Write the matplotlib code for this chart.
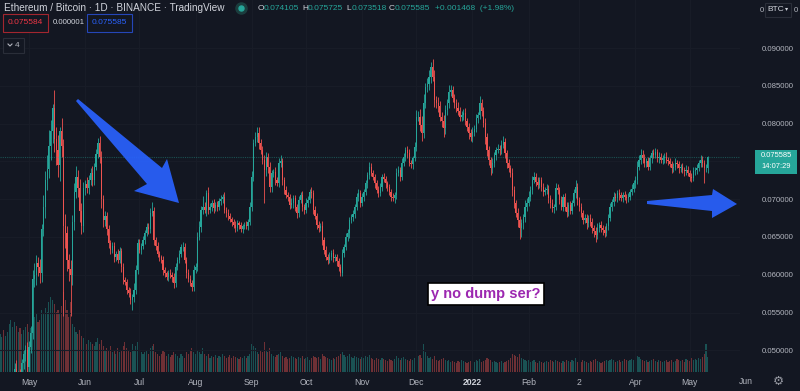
import numpy as np
import pandas as pd
import matplotlib.pyplot as plt
import matplotlib.dates as mdates
from matplotlib.patches import Polygon, Rectangle
from matplotlib.lines import Line2D

plt.rcParams['font.family'] = ['Liberation Sans', 'DejaVu Sans']

W, H = 800, 391
BG = '#131722'
UP = '#26a69a'
DOWN = '#ef5350'
TXT = '#b2b5be'
BLUE = '#2962ff'

# daily ETH/BTC closes, in 1e-5 BTC (15 Apr 2021 -> 11 May 2022)
close_raw = [
    3900, 3910, 3820, 3890, 3950, 4070, 4370, 4620, 4750, 4480, 4670, 4650, 4830, 4950, 5000, 4780, 5050, 5230,
    5940, 6000, 6150, 6100, 6020, 6600, 6900, 7250, 7400, 7700, 7900, 8200, 7800, 7650, 7450, 7900, 7700, 6650,
    6550, 6200, 6080, 6000, 6700, 7100, 7300, 7150, 6850, 6650, 7150, 7200, 7150, 7250, 7350, 7250, 7430, 7600, 7740, 7560,
    7000, 6720, 6780, 6600, 6420, 6330, 6380, 6230, 6280, 6200, 6320, 6100, 5930, 5900, 5800, 5760, 5670, 5700, 5800, 6060,
    6420, 6330, 6380, 6460, 6550, 6630, 6600, 6820, 6850, 6460, 6380, 6280, 6230, 6200, 6060, 6020, 5970, 6020, 6000, 5970,
    5890, 6100, 6200, 6280, 6370, 6370, 6200, 6020, 5950, 5890, 5840, 6060, 6100, 6500, 6630, 6860, 6900, 6860, 7080, 6860,
    6900, 6950, 6880, 6920, 6900, 6980, 7000, 7030, 6860, 6820, 6780, 6740, 6700, 6660, 6620, 6680, 6660, 6600, 6640, 6660,
    6640, 6700, 6900, 7290, 7740, 7820, 7870, 7740, 7650, 7520, 7390, 7560, 7430, 7160, 7340, 7360, 7250, 7210, 7480, 7500,
    7250, 7120, 7060, 7030, 6920, 6950, 7010, 6900, 6820, 6990, 7060, 6900, 6860, 6950, 6990, 7100, 7080, 6860, 6780, 6660,
    6620, 6650, 6460, 6330, 6240, 6200, 6240, 6290, 6220, 6240, 6180, 6100, 6020, 6290, 6370, 6500, 6550, 6720, 6760, 6800,
    6900, 7030, 7080, 6950, 7030, 7100, 7210, 7320, 7430, 7350, 7300, 7210, 7120, 7080, 7160, 7290, 7270, 7210, 7160, 7100,
    7030, 7010, 7050, 7350, 7390, 7300, 7480, 7560, 7650, 7610, 7480, 7460, 7540, 7690, 8090, 8090, 7980, 7870, 8270, 8480,
    8520, 8620, 8750, 8620, 8310, 8270, 8230, 8090, 8030, 7940, 8180, 8270, 8420, 8440, 8340, 8270, 8210, 8170, 8090, 8110,
    8140, 8030, 7960, 7870, 7820, 7890, 7930, 8070, 8110, 8270, 8170, 8010, 7820, 7650, 7520, 7410, 7480, 7580, 7650, 7670,
    7650, 7720, 7760, 7610, 7480, 7410, 7350, 7120, 6950, 6820, 6730, 6620, 6680, 6760, 6900, 6950, 7030, 7120, 7250, 7290,
    7230, 7190, 7250, 7160, 7100, 7120, 7140, 7010, 6950, 6880, 6900, 7150, 7120, 6990, 6900, 7030, 6900, 6830, 6920, 6850,
    6950, 7080, 7160, 6990, 6900, 6820, 6730, 6750, 6680, 6750, 6700, 6620, 6580, 6530, 6620, 6660, 6620, 6590, 6550, 6640,
    6750, 6900, 6960, 7030, 7010, 7080, 7050, 7010, 7050, 7030, 7010, 7030, 7100, 7140, 7210, 7250, 7430, 7520, 7580, 7540,
    7480, 7500, 7430, 7540, 7610, 7590, 7630, 7540, 7560, 7520, 7540, 7560, 7520, 7500, 7460, 7410, 7430, 7480, 7460, 7410,
    7430, 7390, 7370, 7390, 7350, 7300, 7280, 7370, 7390, 7410, 7480, 7520, 7480, 7410, 7410, 7559,
]
first_open = 3880

wick_up_raw = [
    30, 40, 50, 40, 60, 150, 120, 90, 80, 120, 60, 90, 60, 50, 70, 110, 80, 90,
    120, 150, 110, 90, 110, 70, 160, 120, 180, 220, 150, 60, 250, 150, 200, 60, 180, 90,
    150, 100, 80, 120, 90, 120, 140, 90, 120, 100, 80, 60, 90, 70, 60, 90, 50, 60, 70, 90,
    80, 60, 70, 50, 60, 40, 60, 50, 40, 60, 50, 40, 50, 40, 50, 40, 60, 50, 90, 70,
    60, 50, 40, 50, 40, 60, 50, 70, 110, 50, 40, 50, 40, 30, 50, 40, 30, 40, 50, 40,
    50, 60, 40, 50, 40, 60, 50, 40, 60, 50, 40, 70, 60, 60, 80, 50, 140, 60, 40, 80,
    50, 40, 50, 40, 60, 40, 50, 40, 60, 40, 50, 40, 30, 40, 50, 40, 30, 40, 30, 40,
    50, 40, 60, 80, 60, 70, 90, 80, 60, 50, 70, 60, 50, 60, 50, 40, 60, 50, 60, 90,
    50, 40, 50, 30, 40, 60, 40, 50, 40, 50, 40, 50, 40, 60, 50, 40, 60, 40, 50, 40,
    50, 40, 60, 40, 50, 40, 60, 40, 50, 40, 30, 40, 40, 50, 40, 50, 60, 40, 50, 60,
    40, 50, 60, 40, 50, 40, 50, 40, 60, 50, 40, 30, 40, 50, 60, 40, 50, 40, 30, 40,
    40, 50, 40, 60, 50, 40, 60, 50, 40, 60, 50, 40, 30, 60, 90, 80, 100, 120, 120, 60,
    80, 90, 70, 100, 90, 60, 80, 70, 60, 80, 70, 60, 90, 70, 60, 50, 60, 70, 50, 60,
    50, 60, 40, 50, 60, 70, 50, 60, 50, 90, 60, 50, 60, 50, 60, 40, 60, 50, 40, 60,
    50, 60, 70, 50, 40, 50, 40, 60, 50, 40, 60, 50, 60, 50, 90, 60, 80, 50, 60, 70,
    50, 60, 50, 40, 50, 40, 60, 50, 40, 50, 40, 60, 50, 40, 50, 40, 50, 60, 40, 50,
    40, 60, 90, 50, 40, 50, 40, 60, 50, 40, 60, 50, 40, 50, 60, 40, 50, 40, 50, 40,
    60, 50, 40, 60, 50, 40, 50, 40, 50, 60, 40, 50, 40, 60, 50, 60, 80, 60, 90, 70,
    60, 50, 60, 50, 40, 60, 50, 40, 60, 50, 40, 50, 60, 40, 50, 40, 50, 60, 40, 50,
    40, 50, 40, 60, 50, 40, 50, 60, 40, 50, 40, 60, 50, 40, 50, 14,
]
wick_dn_raw = [
    40, 60, 50, 40, 50, 90, 100, 80, 110, 100, 80, 70, 60, 80, 90, 70, 60, 90,
    80, 100, 140, 120, 130, 110, 90, 150, 130, 120, 180, 160, 170, 200, 150, 210, 140, 1200,
    200, 150, 160, 550, 130, 110, 90, 120, 150, 110, 80, 90, 70, 80, 60, 70, 60, 50, 60, 80,
    120, 90, 70, 80, 60, 50, 40, 60, 50, 40, 50, 60, 50, 40, 60, 50, 50, 140, 60, 50,
    50, 40, 60, 40, 50, 40, 60, 50, 40, 60, 50, 40, 50, 40, 60, 50, 40, 50, 40, 60,
    60, 50, 40, 50, 40, 60, 50, 60, 50, 40, 60, 50, 40, 50, 40, 60, 50, 40, 80, 50,
    40, 50, 60, 40, 50, 40, 60, 50, 40, 60, 50, 40, 50, 40, 60, 40, 50, 40, 50, 40,
    40, 50, 40, 60, 50, 40, 60, 70, 50, 60, 440, 80, 90, 70, 60, 50, 60, 40, 50, 60,
    60, 50, 40, 60, 50, 40, 60, 50, 70, 50, 40, 60, 50, 40, 50, 40, 60, 50, 40, 60,
    50, 40, 60, 50, 40, 60, 50, 40, 50, 40, 60, 50, 30, 40, 50, 40, 50, 60, 40, 50,
    50, 40, 60, 50, 40, 50, 40, 60, 50, 40, 50, 60, 40, 50, 40, 50, 40, 60, 50, 40,
    50, 40, 60, 50, 40, 60, 50, 40, 50, 60, 40, 50, 60, 40, 50, 60, 80, 100, 60, 70,
    60, 70, 80, 60, 90, 70, 80, 60, 70, 120, 80, 60, 70, 50, 60, 70, 50, 60, 50, 60,
    60, 50, 60, 70, 50, 60, 50, 40, 60, 50, 70, 60, 90, 80, 70, 90, 60, 50, 60, 40,
    60, 50, 40, 60, 70, 50, 60, 80, 70, 60, 100, 150, 120, 70, 60, 50, 40, 60, 50, 40,
    50, 60, 40, 50, 60, 40, 50, 60, 70, 50, 60, 40, 50, 60, 40, 50, 60, 70, 50, 40,
    50, 40, 60, 70, 60, 50, 60, 40, 70, 50, 60, 70, 80, 90, 60, 50, 60, 70, 50, 40,
    50, 40, 60, 50, 40, 50, 60, 40, 50, 40, 60, 50, 40, 50, 40, 60, 50, 40, 50, 60,
    50, 60, 40, 50, 60, 50, 40, 50, 60, 40, 50, 60, 40, 50, 40, 60, 50, 40, 50, 60,
    50, 40, 60, 50, 40, 60, 50, 40, 50, 60, 40, 50, 60, 200, 50, 58,
]
volume = [
    38, 35, 42, 36, 40, 48, 52, 45, 50, 46, 40, 44, 38, 42, 45, 48, 40, 44,
    60, 55, 58, 50, 52, 62, 58, 64, 60, 70, 75, 72, 68, 60, 62, 58, 66, 80,
    72, 62, 55, 70, 48, 45, 40, 38, 42, 36, 34, 30, 28, 32, 30, 28, 26, 30, 34, 28,
    32, 26, 22, 24, 22, 26, 20, 22, 18, 24, 20, 22, 26, 30, 24, 22, 20, 28, 22, 26,
    30, 22, 20, 18, 20, 22, 18, 24, 26, 28, 20, 18, 16, 18, 22, 20, 16, 18, 15, 17,
    20, 18, 16, 14, 18, 16, 14, 20, 18, 22, 24, 20, 18, 22, 20, 18, 24, 18, 16, 18,
    14, 16, 15, 17, 14, 16, 15, 18, 16, 14, 15, 17, 14, 16, 15, 14, 13, 15, 14, 16,
    14, 16, 18, 28, 26, 24, 20, 18, 22, 20, 30, 22, 20, 24, 18, 16, 15, 17, 18, 20,
    16, 14, 15, 13, 14, 16, 15, 14, 13, 15, 14, 16, 13, 14, 15, 12, 14, 16, 15, 14,
    15, 13, 18, 16, 15, 14, 13, 12, 14, 13, 15, 16, 18, 20, 17, 15, 16, 18, 15, 14,
    16, 15, 14, 13, 15, 14, 16, 15, 17, 14, 13, 12, 14, 13, 12, 14, 13, 12, 11, 13,
    12, 11, 13, 16, 14, 12, 14, 15, 13, 12, 11, 13, 12, 14, 18, 16, 17, 14, 28, 20,
    16, 14, 15, 13, 16, 12, 11, 12, 13, 14, 12, 11, 12, 10, 11, 10, 9, 11, 10, 12,
    11, 10, 9, 10, 11, 9, 10, 12, 11, 13, 10, 11, 12, 14, 13, 12, 10, 11, 10, 9,
    10, 11, 9, 10, 11, 12, 14, 18, 17, 16, 15, 18, 14, 13, 12, 11, 12, 10, 11, 12,
    10, 9, 11, 10, 9, 10, 11, 10, 12, 11, 10, 12, 11, 10, 9, 11, 10, 12, 11, 10,
    12, 11, 14, 10, 11, 10, 12, 11, 10, 9, 11, 10, 12, 13, 11, 10, 9, 10, 11, 12,
    11, 12, 13, 12, 10, 11, 12, 10, 11, 13, 12, 11, 12, 13, 12, 14, 16, 15, 13, 12,
    11, 12, 10, 11, 12, 13, 11, 10, 12, 11, 10, 11, 12, 10, 11, 12, 10, 11, 13, 12,
    11, 12, 10, 13, 12, 11, 14, 12, 13, 12, 14, 13, 15, 18, 28, 15,
]

month_labels = ['May', 'Jun', 'Jul', 'Aug', 'Sep', 'Oct', 'Nov', 'Dec',
                '2022', 'Feb', '2', 'Apr', 'May']
# 0.075000 is hidden behind the last-price label in the reference
price_ticks = [0.050, 0.055, 0.060, 0.065, 0.070, 0.080, 0.085, 0.090]
last_price = 0.075585

# ---- derived OHLC ----
close = np.array(close_raw) / 1e5
opens = np.concatenate([[first_open / 1e5], close[:-1]])
high = np.maximum(opens, close) + np.array(wick_up_raw) / 1e5
low = np.minimum(opens, close) - np.array(wick_dn_raw) / 1e5
dates = pd.date_range('2021-04-15', periods=len(close), freq='D')
x = mdates.date2num(dates)
rising = close >= opens
colors = np.where(rising, UP, DOWN)


def px(xp, yp):
    return (xp / W, 1 - yp / H)


fig = plt.figure(figsize=(W / 100, H / 100), dpi=100, facecolor=BG)
rect = [0, (H - 372) / H, 740 / W, 372 / H]

# volume pane (behind)
vax = fig.add_axes(rect, facecolor=BG)
vax.bar(x, volume, width=0.62, color=colors, alpha=0.42, linewidth=0)
vax.set_ylim(0, 372)
vax.set_axis_off()

# price pane
ax = fig.add_axes(rect, sharex=vax)
ax.patch.set_visible(False)
ax.vlines(x, low, high, colors=colors, linewidth=0.6)
body_lo = np.minimum(opens, close)
body_h = np.maximum(np.abs(close - opens), 0.00003)
ax.bar(x, body_h, bottom=body_lo, width=0.62, color=colors, linewidth=0)
ax.axhline(last_price, color=UP, linewidth=0.8, alpha=0.4, linestyle=(0, (1, 1)))
ax.axhline(0.075, color='#181c27', linewidth=0.8, zorder=0)

ax.set_xlim(x[0] - 0.02, x[0] + 408.8)
ax.set_ylim(0.04714, 0.09635)

month_starts = pd.date_range('2021-05-01', periods=len(month_labels), freq='MS')
ax.set_xticks(mdates.date2num(month_starts))
ax.set_xticklabels(month_labels)
ax.set_yticks(price_ticks)
ax.set_yticklabels(['%.6f' % p for p in price_ticks])
ax.yaxis.tick_right()
ax.tick_params(axis='y', length=0, pad=16, labelsize=5.6, labelcolor=TXT)
ax.tick_params(axis='x', length=0, pad=4, labelsize=6.2, labelcolor=TXT)
for lab in ax.get_xticklabels():
    if lab.get_text() == '2022':
        lab.set_fontweight('bold')
        lab.set_color('#d1d4dc')
ax.grid(True, color='#181c27', linewidth=0.8)
ax.set_axisbelow(True)
for s in ax.spines.values():
    s.set_visible(False)

fig.text(*px(746, 381), 'Jun', color=TXT, fontsize=6.2, ha='center', va='center')
fig.text(*px(778, 381), '\u2699', color='#9598a1', fontsize=9, ha='center', va='center',
         family=['DejaVu Sans'])

# last price label
fig.add_artist(Rectangle(px(755, 174), 42 / W, 24 / H, transform=fig.transFigure,
                         facecolor=UP, edgecolor='none'))
fig.text(*px(776, 155.5), '0.075585', color='white', fontsize=5.4, ha='center', va='center')
fig.text(*px(776, 167), '14:07:29', color='white', fontsize=5.4, ha='center', va='center')

# header
fig.text(*px(4, 8), 'Ethereum / Bitcoin \u00b7 1D \u00b7 BINANCE \u00b7 TradingView',
         color='#d1d4dc', fontsize=7.2, va='center')
fig.add_artist(Line2D([241 / W], [1 - 8 / H], marker='o', markersize=8, color='#1b3d3e',
                      transform=fig.transFigure))
fig.add_artist(Line2D([241 / W], [1 - 8 / H], marker='o', markersize=3.6, color=UP,
                      transform=fig.transFigure))
ohlc = [(258, 'O', '0.074105'), (302, 'H', '0.075725'), (346, 'L', '0.073518'), (389, 'C', '0.075585')]
for xp, letter, val in ohlc:
    fig.text(*px(xp, 8), letter, color='#d1d4dc', fontsize=6.0, va='center')
    fig.text(*px(xp + 6, 8), val, color=UP, fontsize=6.0, va='center')
fig.text(*px(435, 8), '+0.001468  (+1.98%)', color=UP, fontsize=6.0, va='center')

fig.add_artist(Rectangle(px(3, 32), 45 / W, 18 / H, transform=fig.transFigure,
                         facecolor=BG, edgecolor='#a3262f', linewidth=0.8))
fig.text(*px(25.5, 23), '0.075584', color='#f23645', fontsize=6, ha='center', va='center')
fig.text(*px(53, 23), '0.000001', color='#d1d4dc', fontsize=5.6, va='center')
fig.add_artist(Rectangle(px(87, 32), 45 / W, 18 / H, transform=fig.transFigure,
                         facecolor=BG, edgecolor='#2546b8', linewidth=0.8))
fig.text(*px(109.5, 23), '0.075585', color=BLUE, fontsize=6, ha='center', va='center')
fig.add_artist(Rectangle(px(3, 53), 21 / W, 15 / H, transform=fig.transFigure,
                         facecolor=BG, edgecolor='#2a2e39', linewidth=0.8))
fig.add_artist(Line2D([8 / W, 10 / W, 12 / W], [1 - 44 / H, 1 - 46 / H, 1 - 44 / H],
                      color='#b2b5be', linewidth=0.8, transform=fig.transFigure))
fig.text(*px(15, 45.5), '4', color='#b2b5be', fontsize=6, va='center')

# currency selector top right
fig.add_artist(Rectangle(px(765, 17), 26 / W, 14 / H, transform=fig.transFigure,
                         facecolor=BG, edgecolor='#2a2e39', linewidth=0.8))
fig.text(*px(776, 9.5), 'BTC', color='#d1d4dc', fontsize=6, ha='center', va='center')
fig.text(*px(787, 9), '\u25be', color='#d1d4dc', fontsize=4.5, ha='center', va='center',
         family=['DejaVu Sans'])
fig.text(*px(762, 10), '0', color=TXT, fontsize=5.6, ha='center', va='center')
fig.text(*px(796, 10), '0', color=TXT, fontsize=5.6, ha='center', va='center')

# drawings: arrows
arrow1 = [(76, 101), (78, 99), (162, 168), (167, 159), (179, 203), (134, 191), (147, 184)]
arrow2 = [(647, 201), (712, 195), (713, 189), (737, 204), (712, 218), (712, 211), (647, 204)]
for pts in (arrow1, arrow2):
    fig.add_artist(Polygon([px(a, b) for a, b in pts], closed=True, transform=fig.transFigure,
                           facecolor=BLUE, edgecolor='none', alpha=0.92))

# text note
fig.add_artist(Rectangle(px(428, 305), 116 / W, 22 / H, transform=fig.transFigure,
                         facecolor='white', edgecolor='black', linewidth=1.2))
fig.text(*px(486, 294), 'y no dump ser?', color='#9c27b0', fontsize=10.5, fontweight='bold',
         ha='center', va='center')

fig.savefig('out.png', dpi=100, facecolor=BG)
